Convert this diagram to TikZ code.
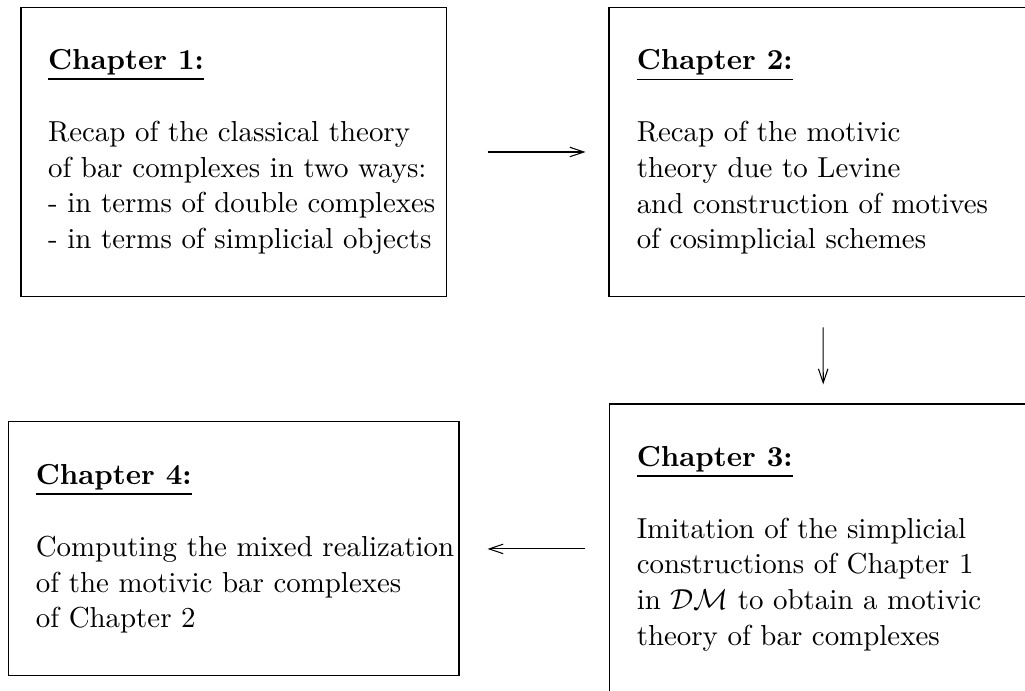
\documentclass[tikz,border=0pt]{standalone}
\usepackage{amsmath}
\usepackage{amssymb}
\usepackage{xcolor}
\usepackage{tikz}
\usetikzlibrary{
    arrows.meta,
    positioning
}
\tikzset{
    chapbox/.style={draw, inner sep=0pt},
    chaptext/.style={align=left, inner sep=0pt, font=\fontsize{10.95}{13.6}\selectfont},
    >={Straight Barb[length=5.3pt, width=3.6pt]}
}

\begin{document}
\begin{tikzpicture}
        \clip (0,0) rectangle (13.65,-9.2);
        \node [chapbox, minimum width=5.67cm, minimum height=3.86cm] (ch1) at (3.115,-2.024) {};
        \node [chapbox, minimum width=5.70cm, minimum height=3.86cm] (ch2) at (10.96,-2.024) {};
        \node [chapbox, minimum width=5.69cm, minimum height=3.86cm] (ch3) at (10.965,-7.31) {};
        \node [chapbox, minimum width=6.005cm, minimum height=3.382cm] (ch4) at (3.11,-7.31) {};
        \node [chaptext, right=0.36cm of ch1.west] (ch1text) {\underline{\textbf{Chapter 1:}}\\[13.6pt]
            Recap of the classical theory\\
            of bar complexes in two ways:\\
            - in terms of double complexes\\
            - in terms of simplicial objects};
        \node [chaptext, right=0.37cm of ch2.west] (ch2text) {\underline{\textbf{Chapter 2:}}\\[13.6pt]
            Recap of the motivic\\
            theory due to Levine\\
            and construction of motives\\
            of cosimplicial schemes};
        \node [chaptext, right=0.36cm of ch3.west] (ch3text) {\underline{\textbf{Chapter 3:}}\\[13.6pt]
            Imitation of the simplicial\\
            constructions of Chapter 1\\
            in $\mathcal{DM}$ to obtain a motivic\\
            theory of bar complexes};
        \node [chaptext, right=0.37cm of ch4.west] (ch4text) {\underline{\textbf{Chapter 4:}}\\[13.6pt]
            Computing the mixed realization\\
            of the motivic bar complexes\\
            of Chapter 2};
        \draw [->, shorten <=0.535cm, shorten >=0.306cm] (ch1) -- (ch2);
        \draw [->, shorten <=0.4cm, shorten >=0.254cm] (ch2) -- (ch3);
        \draw [->, shorten <=0.317cm, shorten >=0.373cm] (ch3) -- (ch4);
\end{tikzpicture}
\end{document}
